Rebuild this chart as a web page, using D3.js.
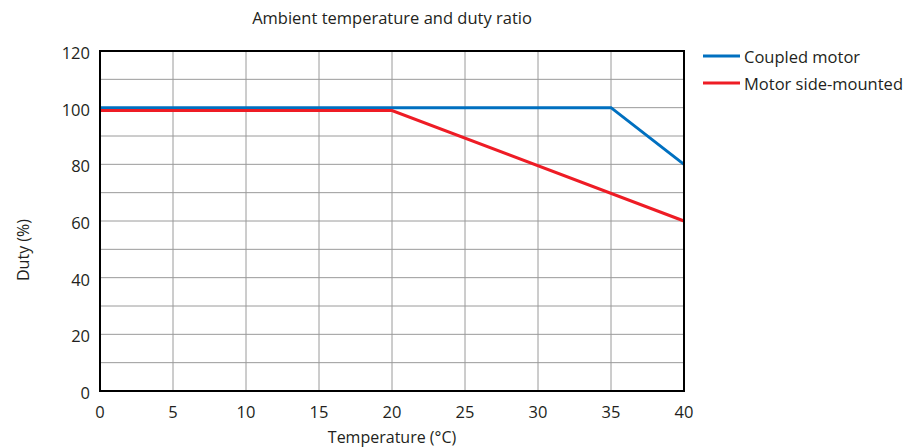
<!DOCTYPE html>
<html>
<head>
<meta charset="utf-8">
<script src="https://cdn.jsdelivr.net/npm/d3@7"></script>
<style>
  body { margin: 0; background: #fff; }
  svg text { font-family: "Open Sans", "Noto Sans", sans-serif; fill: #231f20; }
</style>
</head>
<body>
<div id="chart"></div>
<script>
"use strict";

// chart data
var seriesNames = ["Coupled motor", "Motor side-mounted"];
var seriesColors = ["#0070c0", "#ee1c25"];
var coupledTemp = [0, 35, 40];
var coupledDuty = [100, 100, 80];
var sideTemp = [0, 20, 40];
var sideDuty = [99, 99, 60];
var xTicks = [0, 5, 10, 15, 20, 25, 30, 35, 40];
var yTicks = [0, 20, 40, 60, 80, 100, 120];
var yGrid = [10, 20, 30, 40, 50, 60, 70, 80, 90, 100, 110];

(function () {
  var width = 906, height = 447;
  var plotLeft = 100, plotRight = 684, plotTop = 51, plotBottom = 391;

  var svg = d3.select("#chart").append("svg")
    .attr("width", width)
    .attr("height", height);

  var x = d3.scaleLinear().domain([0, 40]).range([plotLeft, plotRight]);
  var y = d3.scaleLinear().domain([0, 120]).range([plotBottom, plotTop]);

  // grid lines
  svg.append("g").selectAll("line")
    .data(xTicks.slice(1, -1))
    .enter().append("line")
    .attr("x1", function (d) { return x(d); })
    .attr("x2", function (d) { return x(d); })
    .attr("y1", plotTop).attr("y2", plotBottom)
    .attr("stroke", "#9a9a9a").attr("stroke-width", 1);

  svg.append("g").selectAll("line")
    .data(yGrid)
    .enter().append("line")
    .attr("x1", plotLeft).attr("x2", plotRight)
    .attr("y1", function (d) { return y(d); })
    .attr("y2", function (d) { return y(d); })
    .attr("stroke", "#9a9a9a").attr("stroke-width", 1);

  // series
  var line = d3.line()
    .x(function (d) { return x(d[0]); })
    .y(function (d) { return y(d[1]); });

  var series = [
    d3.zip(coupledTemp, coupledDuty),
    d3.zip(sideTemp, sideDuty)
  ];

  svg.append("g").selectAll("path")
    .data(series)
    .enter().append("path")
    .attr("d", line)
    .attr("fill", "none")
    .attr("stroke", function (d, i) { return seriesColors[i]; })
    .attr("stroke-width", 3);

  // frame
  svg.append("rect")
    .attr("x", plotLeft).attr("y", plotTop)
    .attr("width", plotRight - plotLeft).attr("height", plotBottom - plotTop)
    .attr("fill", "none")
    .attr("stroke", "#000").attr("stroke-width", 2);

  // tick labels
  svg.append("g").selectAll("text")
    .data(xTicks)
    .enter().append("text")
    .attr("x", function (d) { return x(d); })
    .attr("y", plotBottom + 27)
    .attr("text-anchor", "middle")
    .style("font-size", "16.5px")
    .text(function (d) { return d; });

  svg.append("g").selectAll("text")
    .data(yTicks)
    .enter().append("text")
    .attr("x", plotLeft - 10)
    .attr("y", function (d) { return y(d) + 8; })
    .attr("text-anchor", "end")
    .style("font-size", "16.5px")
    .text(function (d) { return d; });

  // titles
  svg.append("text")
    .attr("x", 392).attr("y", 24)
    .attr("text-anchor", "middle")
    .style("font-size", "16.5px")
    .text("Ambient temperature and duty ratio");

  svg.append("text")
    .attr("x", 392).attr("y", 443)
    .attr("text-anchor", "middle")
    .style("font-size", "16px")
    .text("Temperature (°C)");

  svg.append("text")
    .attr("transform", "translate(29,250) rotate(-90)")
    .attr("text-anchor", "middle")
    .style("font-size", "16px")
    .text("Duty (%)");

  // legend
  var legend = svg.append("g").selectAll("g")
    .data(seriesNames)
    .enter().append("g")
    .attr("transform", function (d, i) { return "translate(703," + (56 + i * 27) + ")"; });

  legend.append("line")
    .attr("x1", 0).attr("x2", 37)
    .attr("stroke", function (d, i) { return seriesColors[i]; })
    .attr("stroke-width", 3);

  legend.append("text")
    .attr("x", 41).attr("y", 7)
    .style("font-size", "16.5px")
    .text(function (d) { return d; });
})();
</script>
</body>
</html>
